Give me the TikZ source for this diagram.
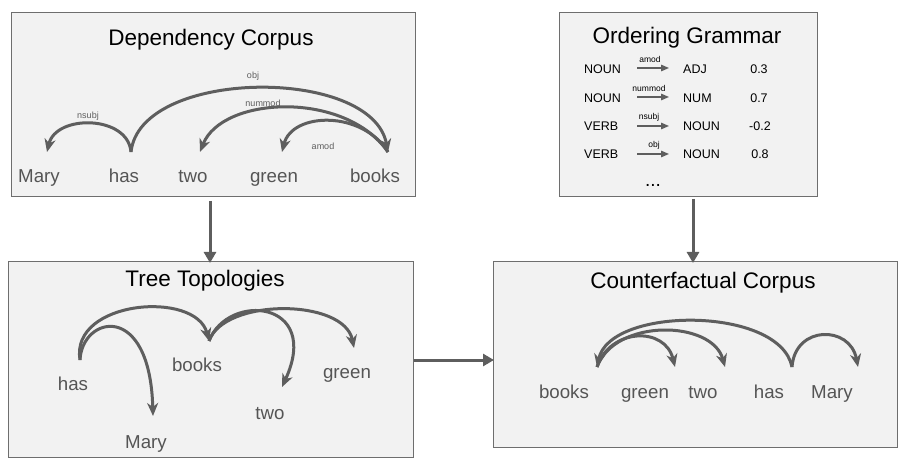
\documentclass[tikz,border=0pt]{standalone}
\usepackage{fontspec}
\setmainfont{Liberation Sans}
\usetikzlibrary{arrows.meta}
\definecolor{boxfill}{HTML}{F2F2F2}
\definecolor{boxline}{HTML}{6E6E6E}
\definecolor{arcc}{HTML}{5E5E5E}
\definecolor{wordc}{HTML}{555555}
\begin{document}
\begin{tikzpicture}[x=1pt,y=-1pt,
  panel/.style={draw=boxline,fill=boxfill,line width=1pt},
  title/.style={font=\fontsize{22.5}{26}\selectfont,text=black,inner sep=0pt,anchor=base},
  word/.style={font=\fontsize{18.7}{22}\selectfont,text=wordc,inner sep=0pt,anchor=base},
  rel/.style={font=\fontsize{9}{10}\selectfont,text=arcc,inner sep=0pt,anchor=base},
  grel/.style={font=\fontsize{8.5}{10}\selectfont,text=black,inner sep=0pt,anchor=base},
  gram/.style={font=\fontsize{12.5}{14}\selectfont,text=black,inner sep=0pt,anchor=base west},
  gnum/.style={font=\fontsize{12.5}{14}\selectfont,text=black,inner sep=0pt,anchor=base},
  dep/.style={draw=arcc,line width=3pt,-{Stealth[length=13pt,width=11pt,inset=4pt]}},
  flow/.style={draw=arcc,line width=3pt,-{Triangle[length=11pt,width=12pt]}},
  garrow/.style={draw=arcc,line width=1.4pt,-{Triangle[length=8pt,width=6.5pt]}}]
\useasboundingbox (0,0) rectangle (908,465);
% panels
\path[panel] (11,13) rectangle (415,197);
\path[panel] (559,13) rectangle (817,197);
\path[panel] (8,262) rectangle (413,457);
\path[panel] (493,262) rectangle (897,447);
\coordinate (depS) at (210,201);
\coordinate (treeN) at (210,263);
\coordinate (ordS) at (693,199);
\coordinate (cfN) at (693,263);
\coordinate (treeE) at (414,360);
\coordinate (cfW) at (494,360);
\draw[flow] (depS) -- (treeN);
\draw[flow] (ordS) -- (cfN);
\draw[flow] (treeE) -- (cfW);
% titles
\node[title] (t1) at (211,46) {Dependency Corpus};
\node[title] (t2) at (687,44) {Ordering Grammar};
\node[title] (t3) at (205,287) {Tree Topologies};
\node[title] (t4) at (703,288) {Counterfactual Corpus};
% dependency corpus
\node[word] (dMaryW) at (39,183) {Mary};
\node[word] (dHasW) at (124,183) {has};
\node[word] (dTwoW) at (193,183) {two};
\node[word] (dGreenW) at (274,183) {green};
\node[word] (dBooksW) at (375,183) {books};
\coordinate (dMary) at (47,152);
\coordinate (dHas) at (131,152);
\coordinate (dTwo) at (200,152);
\coordinate (dGreen) at (282,152);
\coordinate (dBooks) at (388,152);
\draw[dep] (dHas) .. controls (128,115) and (56,114) .. (dMary);
\draw[dep] (dHas) .. controls (140,68) and (372,66) .. (dBooks);
\draw[dep] (dBooks) .. controls (345,90) and (222,96) .. (dTwo);
\draw[dep] (dBooks) .. controls (362,110) and (292,112) .. (dGreen);
\node[rel] (lnsubj) at (88,119) {nsubj};
\node[rel] (lobj) at (253,79) {obj};
\node[rel] (lnummod) at (263,107) {nummod};
\node[rel] (lamod) at (323,150) {amod};
% ordering grammar
\node[gram] (g1a) at (584,74) {NOUN};
\node[gram] (g2a) at (584,103) {NOUN};
\node[gram] (g3a) at (584,131) {VERB};
\node[gram] (g4a) at (584,159) {VERB};
\node[gram] (g1b) at (683,74) {ADJ};
\node[gram] (g2b) at (683,103) {NUM};
\node[gram] (g3b) at (683,131) {NOUN};
\node[gram] (g4b) at (683,159) {NOUN};
\node[gnum] (g1c) at (759,74) {0.3};
\node[gnum] (g2c) at (759,103) {0.7};
\node[gnum] (g3c) at (760,131) {-0.2};
\node[gnum] (g4c) at (760,159) {0.8};
\node[gnum,font=\fontsize{19}{22}\selectfont] (gdots) at (653,187) {...};
\coordinate (a1s) at (637,68); \coordinate (a1e) at (669,68);
\coordinate (a2s) at (637,97); \coordinate (a2e) at (669,97);
\coordinate (a3s) at (637,126); \coordinate (a3e) at (669,126);
\coordinate (a4s) at (637,154); \coordinate (a4e) at (669,154);
\draw[garrow] (a1s) -- (a1e);
\draw[garrow] (a2s) -- (a2e);
\draw[garrow] (a3s) -- (a3e);
\draw[garrow] (a4s) -- (a4e);
\node[grel] (r1) at (650,63) {amod};
\node[grel] (r2) at (649,92) {nummod};
\node[grel] (r3) at (649,120) {nsubj};
\node[grel] (r4) at (654,148) {obj};
% tree topologies
\node[word] (tHasW) at (73,390) {has};
\node[word] (tBooksW) at (197,371) {books};
\node[word] (tMaryW) at (146,448) {Mary};
\node[word] (tTwoW) at (270,419) {two};
\node[word] (tGreenW) at (347,378) {green};
\coordinate (tHas) at (80,360);
\coordinate (tBooks) at (209,341);
\coordinate (tMary) at (153,416);
\coordinate (tTwo) at (282,387);
\coordinate (tGreen) at (354,348);
\draw[dep] (tHas) .. controls (70,300) and (196,290) .. (tBooks);
\draw[dep] (tHas) .. controls (82,316) and (150,300) .. (tMary);
\draw[dep] (tBooks) .. controls (228,292) and (322,300) .. (tTwo);
\draw[dep] (tBooks) .. controls (224,298) and (344,298) .. (tGreen);
% counterfactual corpus
\node[word] (cBooksW) at (564,398) {books};
\node[word] (cGreenW) at (645,398) {green};
\node[word] (cTwoW) at (703,398) {two};
\node[word] (cHasW) at (769,398) {has};
\node[word] (cMaryW) at (832,398) {Mary};
\coordinate (cBooks) at (597,367);
\coordinate (cGreen) at (675,367);
\coordinate (cTwo) at (725,367);
\coordinate (cHas) at (792,367);
\coordinate (cMary) at (858,367);
\draw[dep] (cHas) .. controls (780,306) and (610,306) .. (cBooks);
\draw[dep] (cHas) .. controls (795,325) and (850,325) .. (cMary);
\draw[dep] (cBooks) .. controls (610,328) and (665,326) .. (cGreen);
\draw[dep] (cBooks) .. controls (615,318) and (712,320) .. (cTwo);
\end{tikzpicture}
\end{document}
